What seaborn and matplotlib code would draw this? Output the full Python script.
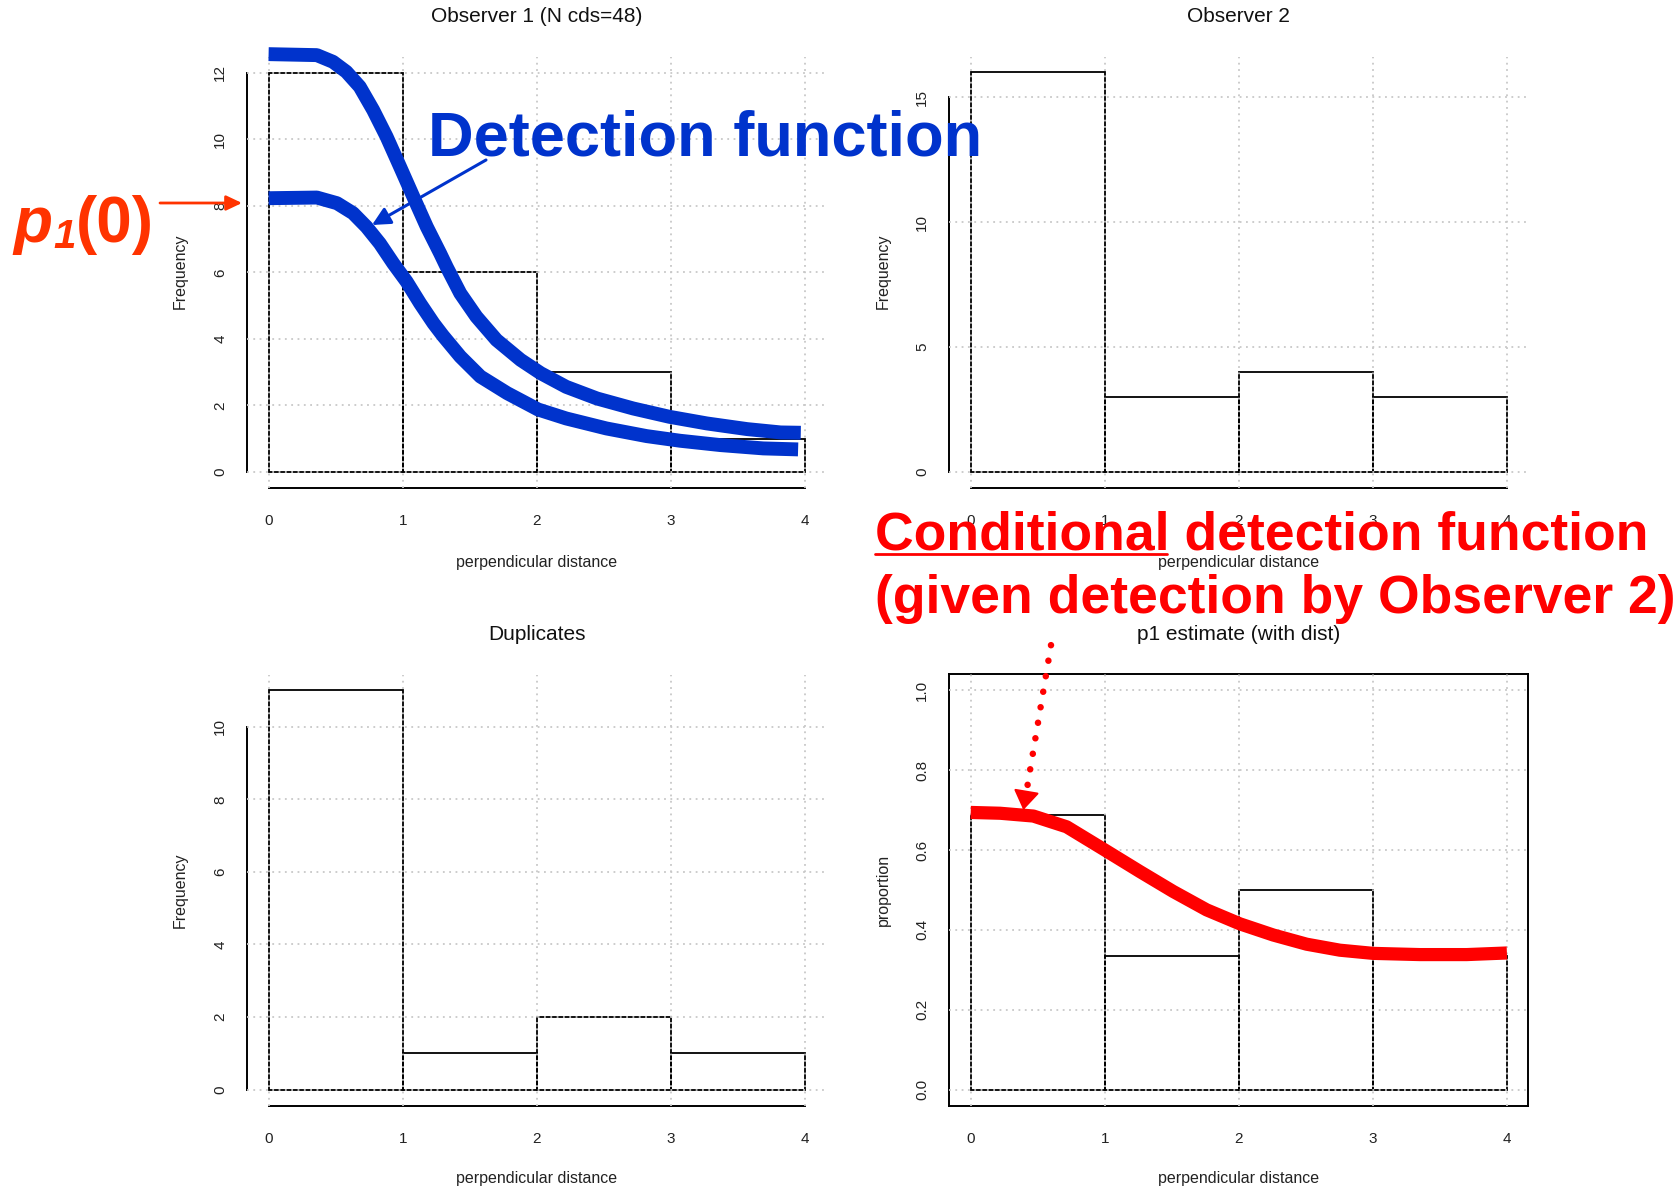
import numpy as np
import pandas as pd
import seaborn as sns
import matplotlib
matplotlib.use("Agg")
import matplotlib.pyplot as plt
from matplotlib.lines import Line2D

# ---------------- data ----------------
bin_edges = [0, 1, 2, 3, 4]
bin_mids = [0.5, 1.5, 2.5, 3.5]
obs1_counts = [12, 6, 3, 1]
obs2_counts = [16, 3, 4, 3]
dup_counts = [11, 1, 2, 1]
p1_props = [11 / 16, 1 / 3, 2 / 4, 1 / 3]

# hand-drawn detection functions (panel 1)
upper_x = [0, 0.36, 0.48, 0.58, 0.68, 0.78, 0.88, 0.98, 1.08, 1.18, 1.28, 1.33, 1.43, 1.55,
           1.70, 1.88, 2.03, 2.22, 2.45, 2.72, 2.99, 3.27, 3.57, 3.82, 3.97]
upper_y = [12.56, 12.53, 12.33, 12.03, 11.58, 10.88, 10.08, 9.18, 8.27, 7.37, 6.57, 6.15, 5.37, 4.67,
           3.97, 3.37, 2.97, 2.56, 2.21, 1.91, 1.66, 1.46, 1.29, 1.19, 1.18]
lower_x = [0, 0.36, 0.51, 0.63, 0.73, 0.83, 0.93, 1.03, 1.13, 1.23, 1.30, 1.43, 1.58, 1.78,
           2.01, 2.22, 2.52, 2.82, 3.07, 3.37, 3.69, 3.95]
lower_y = [8.23, 8.25, 8.08, 7.78, 7.37, 6.87, 6.27, 5.72, 5.07, 4.47, 4.10, 3.47, 2.87, 2.37,
           1.88, 1.61, 1.31, 1.08, 0.94, 0.81, 0.71, 0.68]
# conditional detection function (panel 4)
cond_x = [0, 0.219, 0.467, 0.716, 1.0, 1.262, 1.511, 1.760, 2.008, 2.257, 2.506, 2.754,
          3.003, 3.351, 3.7, 4.0]
cond_y = [0.694, 0.692, 0.685, 0.658, 0.600, 0.546, 0.496, 0.450, 0.415, 0.387, 0.364, 0.349,
          0.341, 0.338, 0.338, 0.342]

xticks = [0, 1, 2, 3, 4]
yticks_obs1 = [0, 2, 4, 6, 8, 10, 12]
yticks_obs2 = [0, 5, 10, 15]
yticks_dup = [0, 2, 4, 6, 8, 10]
yticks_p1 = [0.0, 0.2, 0.4, 0.6, 0.8, 1.0]

titles = ["Observer 1 (N cds=48)", "Observer 2", "Duplicates", "p1 estimate (with dist)"]
ylabels = ["Frequency", "Frequency", "Frequency", "proportion"]
xlabel = "perpendicular distance"

# ---------------- style ----------------
W, H, DPI = 1678, 1190, 100
sns.set_style("white")
plt.rcParams["font.family"] = ["Liberation Sans", "DejaVu Sans"]

fig = plt.figure(figsize=(W / DPI, H / DPI), dpi=DPI)


def fx(x):
    return x / W


def fy(y):
    return 1 - y / H


AX_W = 579.1
PX_PER_UNIT = 134.05


def make_panel(x0_px, top_px, bottom_px, values, ylim, yticks, ytl, box=False):
    left = x0_px - 0.16 * PX_PER_UNIT
    ax = fig.add_axes([fx(left), fy(bottom_px), AX_W / W, (bottom_px - top_px) / H])
    sns.histplot(x=bin_mids, weights=values, bins=bin_edges, fill=False,
                 color="black", linewidth=1.3, ax=ax, zorder=1)
    ax.set_xlim(-0.16, 4.16)
    ax.set_ylim(*ylim)
    ax.set_xticks(xticks)
    ax.set_xticklabels([str(t) for t in xticks])
    ax.set_yticks(yticks)
    ax.set_yticklabels(ytl)
    ax.set_xlabel("")
    ax.set_ylabel("")
    ax.grid(True, color="#C8C8C8", linestyle=(0, (1, 2.5)), linewidth=1.3)
    ax.set_axisbelow(False)
    for s in ax.spines.values():
        s.set_linewidth(1.4)
        s.set_color("black")
    if not box:
        ax.spines["top"].set_visible(False)
        ax.spines["right"].set_visible(False)
        ax.spines["left"].set_bounds(yticks[0], yticks[-1])
        ax.spines["bottom"].set_bounds(0, 4)
    ax.tick_params(direction="out", length=5, width=1.4, color="black",
                   labelsize=11, labelcolor="#222222")
    ax.tick_params(axis="y", pad=14.4)
    ax.tick_params(axis="x", pad=18.8)
    for lab in ax.get_yticklabels():
        lab.set_rotation(90)
        lab.set_ha("center")
        lab.set_va("center")
    for lab in ax.get_xticklabels():
        lab.set_va("center")
    return ax


ax1 = make_panel(268.6, 56.8, 488.0, obs1_counts, (-0.48, 12.48), yticks_obs1,
                 [str(t) for t in yticks_obs1])
ax2 = make_panel(970.7, 56.5, 488.0, obs2_counts, (-0.64, 16.64), yticks_obs2,
                 [str(t) for t in yticks_obs2])
ax3 = make_panel(268.6, 674.5, 1105.5, dup_counts, (-0.44, 11.44), yticks_dup,
                 [str(t) for t in yticks_dup])
ax4 = make_panel(970.7, 674.3, 1105.5, p1_props, (-0.04, 1.04), yticks_p1,
                 ["%.1f" % t for t in yticks_p1], box=True)

# titles and axis labels
for (cx, ty, lx_x, ly, xl_y), title, yl in zip(
        [(536.7, 17, 180, 271, 562), (1238.8, 17, 883, 271, 562),
         (536.7, 635, 180, 890, 1178), (1238.8, 635, 883, 890, 1178)],
        titles, ylabels):
    fig.text(fx(cx), fy(ty), title, ha="center", va="center", fontsize=15, color="#111111")
    fig.text(fx(cx), fy(xl_y), xlabel, ha="center", va="center", fontsize=11.5, color="#222222")
    fig.text(fx(lx_x), fy(ly), yl, ha="center", va="center", rotation=90,
             fontsize=11.5, color="#222222")

# ---------------- annotations ----------------
BLUE = "#0033CC"
RED = "#FF0000"
ORANGE = "#FF3300"

for cx_, cy_ in [(upper_x, upper_y), (lower_x, lower_y)]:
    sns.lineplot(x=cx_, y=cy_, ax=ax1, color=BLUE, linewidth=10, sort=False,
                 estimator=None, clip_on=False, zorder=5, solid_capstyle="butt",
                 solid_joinstyle="round")
sns.lineplot(x=cond_x, y=cond_y, ax=ax4, color=RED, linewidth=9.5, sort=False,
             estimator=None, clip_on=False, zorder=5, solid_capstyle="butt",
             solid_joinstyle="round")

fig.text(fx(428), fy(155), "Detection function", ha="left", va="baseline",
         fontsize=45.5, fontweight="bold", color=BLUE)
fig.add_artist(matplotlib.patches.FancyArrowPatch(
    (fx(486), fy(160)), (fx(372), fy(225)), transform=fig.transFigure,
    arrowstyle="-|>,head_length=0.9,head_width=0.45", mutation_scale=12,
    color=BLUE, linewidth=2.2, shrinkA=0, shrinkB=0))

# p1(0)
fig.text(fx(13), fy(242), "p", ha="left", va="baseline", fontsize=46,
         fontweight="bold", fontstyle="italic", color=ORANGE)
fig.text(fx(53), fy(248), "1", ha="left", va="baseline", fontsize=29,
         fontweight="bold", fontstyle="italic", color=ORANGE)
fig.text(fx(76), fy(242), "(0)", ha="left", va="baseline", fontsize=46,
         fontweight="bold", color=ORANGE)
fig.add_artist(matplotlib.patches.FancyArrowPatch(
    (fx(160), fy(203)), (fx(242), fy(203)), transform=fig.transFigure,
    arrowstyle="-|>,head_length=0.95,head_width=0.45", mutation_scale=10,
    color=ORANGE, linewidth=2.0, shrinkA=0, shrinkB=0))

# conditional detection function text
fig.text(fx(875), fy(550), "Conditional detection function", ha="left", va="baseline",
         fontsize=38.5, fontweight="bold", color=RED)
fig.text(fx(875), fy(613), "(given detection by Observer 2)", ha="left", va="baseline",
         fontsize=38.5, fontweight="bold", color=RED)
fig.add_artist(Line2D([fx(875), fx(1167)], [fy(554), fy(554)], transform=fig.transFigure,
                      color=RED, linewidth=2.0))

# red dotted arrow in panel 4
arr_start = (0.599, 1.113)
arr_base = (0.414, 0.742)
arr_tip = (0.393, 0.700)
ax4.plot([arr_start[0], arr_base[0]], [arr_start[1], arr_base[1]], color=RED,
         linewidth=4.7, linestyle=(0, (0.01, 2.4)), dash_capstyle="round",
         clip_on=False, zorder=6)
ax4.annotate("", xy=arr_tip, xytext=arr_base, xycoords="data",
             arrowprops=dict(arrowstyle="-|>,head_length=1.2,head_width=0.8",
                             mutation_scale=10, color=RED, linewidth=1.5,
                             shrinkA=0, shrinkB=0),
             annotation_clip=False, zorder=6)

fig.savefig("out.png", dpi=DPI)
